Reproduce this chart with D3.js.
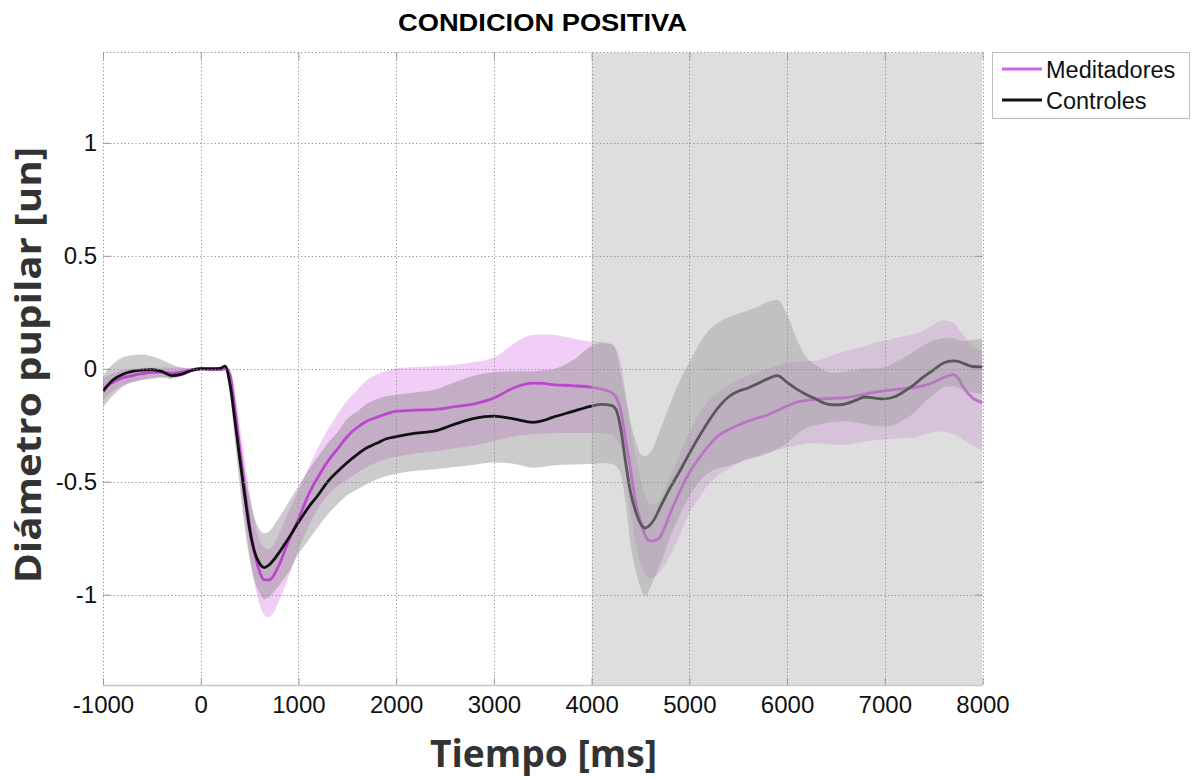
<!DOCTYPE html>
<html><head><meta charset="utf-8">
<script src="https://cdn.jsdelivr.net/npm/d3@7"></script>
<style>body{margin:0;background:#fff}svg{display:block}</style>
</head><body>
<svg id="chart" width="1196" height="780"></svg>
<script>
// ---- data ----
const times = [
  -1000,-900,-800,-700,-600,-500,-400,-300,-200,-100,0,
  100,200,250,300,350,400,450,500,550,600,650,700,
  800,900,1000,1100,1200,1300,1400,1500,1600,1700,1800,1900,2000,
  2200,2400,2600,2800,3000,3200,3400,3500,3600,3800,4000,
  4100,4200,4250,4300,4350,4400,4450,4500,4550,4600,4650,4700,4800,
  4900,5000,5100,5200,5300,5400,5500,5600,5700,5800,5900,6000,
  6100,6200,6300,6400,6500,6600,6700,6800,6900,7000,7100,7200,
  7300,7400,7500,7600,7700,7750,7800,7900,8000
];
const meditadores = [
  -0.09,-0.06,-0.04,-0.03,-0.022,-0.016,-0.015,-0.02,-0.015,-0.005,0,
  -0.003,-0.004,0,-0.03,-0.18,-0.36,-0.53,-0.69,-0.81,-0.895,-0.935,-0.935,
  -0.87,-0.76,-0.665,-0.56,-0.48,-0.41,-0.355,-0.30,-0.26,-0.232,-0.215,-0.20,-0.188,
  -0.183,-0.18,-0.168,-0.155,-0.13,-0.085,-0.064,-0.065,-0.07,-0.075,-0.082,
  -0.09,-0.105,-0.125,-0.19,-0.32,-0.45,-0.59,-0.675,-0.74,-0.763,-0.76,-0.745,-0.645,
  -0.545,-0.46,-0.395,-0.34,-0.295,-0.27,-0.25,-0.232,-0.218,-0.205,-0.185,-0.165,
  -0.148,-0.14,-0.135,-0.132,-0.13,-0.128,-0.12,-0.112,-0.103,-0.098,-0.092,-0.088,
  -0.083,-0.075,-0.06,-0.04,-0.026,-0.04,-0.08,-0.13,-0.15
];
const meditadoresUpper = [
  -0.04,-0.02,-0.005,0.0,0.003,0.005,0.005,0.005,0.005,0.003,0,
  0,0,0.005,0,-0.10,-0.25,-0.40,-0.55,-0.67,-0.76,-0.79,-0.80,
  -0.73,-0.63,-0.54,-0.44,-0.35,-0.27,-0.20,-0.14,-0.095,-0.05,-0.025,-0.01,0.002,
  0.008,0.011,0.018,0.03,0.05,0.11,0.15,0.152,0.15,0.135,0.12,
  0.12,0.11,0.09,0.03,-0.12,-0.26,-0.38,-0.49,-0.56,-0.60,-0.60,-0.58,-0.48,
  -0.38,-0.28,-0.20,-0.14,-0.10,-0.07,-0.05,-0.03,-0.015,0.0,0.015,0.027,
  0.03,0.033,0.035,0.05,0.065,0.078,0.09,0.10,0.115,0.125,0.135,0.145,
  0.152,0.17,0.195,0.215,0.205,0.18,0.15,0.10,0.08
];
const meditadoresLower = [
  -0.14,-0.10,-0.075,-0.06,-0.05,-0.04,-0.035,-0.04,-0.035,-0.015,0,
  -0.005,-0.008,-0.005,-0.07,-0.27,-0.47,-0.66,-0.82,-0.95,-1.04,-1.09,-1.10,
  -1.03,-0.92,-0.80,-0.70,-0.62,-0.56,-0.52,-0.49,-0.46,-0.435,-0.415,-0.40,-0.39,
  -0.375,-0.365,-0.352,-0.34,-0.32,-0.30,-0.29,-0.287,-0.285,-0.284,-0.284,
  -0.285,-0.29,-0.31,-0.35,-0.48,-0.64,-0.77,-0.86,-0.91,-0.93,-0.92,-0.90,-0.83,
  -0.74,-0.64,-0.57,-0.51,-0.47,-0.44,-0.42,-0.40,-0.385,-0.37,-0.36,-0.35,
  -0.34,-0.332,-0.33,-0.333,-0.336,-0.336,-0.33,-0.322,-0.316,-0.314,-0.31,-0.306,
  -0.305,-0.29,-0.28,-0.277,-0.29,-0.30,-0.314,-0.34,-0.365
];
const controles = [
  -0.10,-0.05,-0.025,-0.012,-0.006,-0.004,-0.012,-0.03,-0.025,-0.008,0,
  0,0.002,0.012,-0.07,-0.23,-0.40,-0.56,-0.71,-0.81,-0.86,-0.88,-0.868,
  -0.815,-0.75,-0.68,-0.615,-0.56,-0.50,-0.455,-0.415,-0.38,-0.35,-0.33,-0.31,-0.30,
  -0.285,-0.275,-0.245,-0.22,-0.21,-0.222,-0.237,-0.23,-0.215,-0.19,-0.165,
  -0.158,-0.162,-0.18,-0.27,-0.42,-0.55,-0.63,-0.685,-0.705,-0.69,-0.66,-0.615,-0.53,
  -0.455,-0.375,-0.30,-0.23,-0.17,-0.125,-0.10,-0.085,-0.065,-0.045,-0.03,-0.06,
  -0.09,-0.115,-0.135,-0.155,-0.16,-0.155,-0.14,-0.125,-0.13,-0.133,-0.124,-0.10,
  -0.07,-0.035,-0.005,0.025,0.035,0.033,0.025,0.01,0.008
];
const controlesUpper = [
  -0.03,0.02,0.05,0.06,0.063,0.055,0.04,0.02,0.005,0.0,0,
  0,0.005,0.015,-0.02,-0.14,-0.30,-0.45,-0.57,-0.66,-0.71,-0.728,-0.72,
  -0.66,-0.59,-0.52,-0.45,-0.39,-0.33,-0.28,-0.22,-0.19,-0.155,-0.135,-0.122,-0.115,
  -0.105,-0.092,-0.06,-0.03,-0.015,-0.011,-0.011,-0.008,-0.003,0.035,0.10,
  0.113,0.11,0.08,-0.02,-0.13,-0.24,-0.32,-0.375,-0.387,-0.37,-0.33,-0.27,-0.16,
  -0.055,0.03,0.11,0.17,0.205,0.228,0.245,0.258,0.275,0.295,0.305,0.24,
  0.13,0.05,0.015,-0.012,-0.018,-0.012,-0.005,0.0,0.002,0.008,0.028,0.05,
  0.078,0.105,0.125,0.135,0.135,0.128,0.122,0.13,0.132
];
const controlesLower = [
  -0.17,-0.12,-0.08,-0.06,-0.05,-0.045,-0.04,-0.045,-0.03,-0.01,0,
  0,0,0.005,-0.12,-0.32,-0.52,-0.70,-0.84,-0.94,-0.99,-1.02,-1.01,
  -0.96,-0.90,-0.82,-0.76,-0.70,-0.645,-0.60,-0.56,-0.535,-0.51,-0.49,-0.475,-0.465,
  -0.452,-0.445,-0.435,-0.425,-0.415,-0.42,-0.438,-0.435,-0.428,-0.424,-0.422,
  -0.418,-0.42,-0.43,-0.47,-0.60,-0.78,-0.89,-0.97,-1.005,-0.97,-0.92,-0.87,-0.75,
  -0.65,-0.565,-0.50,-0.46,-0.44,-0.43,-0.415,-0.40,-0.39,-0.375,-0.355,-0.33,
  -0.29,-0.262,-0.25,-0.24,-0.235,-0.232,-0.238,-0.245,-0.255,-0.255,-0.248,-0.225,
  -0.195,-0.15,-0.115,-0.082,-0.078,-0.085,-0.092,-0.105,-0.114
];
const xTicks = [-1000,0,1000,2000,3000,4000,5000,6000,7000,8000];
const yTicks = [-1,-0.5,0,0.5,1];
const xDomain = [-1000, 8000];
const yDomain = [-1.4, 1.4];
const shadedSpan = [4000, 8000];
const seriesNames = ["Meditadores", "Controles"];
const titleText = "CONDICION POSITIVA";
const xLabelText = "Tiempo [ms]";
const yLabelText = "Diámetro pupilar [un]";

// ---- drawing ----
const svg = d3.select("#chart");
const L = 103, R = 982.5, T = 52.5, B = 685;
const x = d3.scaleLinear().domain(xDomain).range([L, R]);
const y = d3.scaleLinear().domain(yDomain).range([B, T]);

const rows = times.map((t, i) => ({
  t, m: meditadores[i], mu: meditadoresUpper[i], ml: meditadoresLower[i],
  c: controles[i], cu: controlesUpper[i], cl: controlesLower[i]
}));

svg.append("clipPath").attr("id", "clip")
  .append("rect").attr("x", L).attr("y", T).attr("width", R - L).attr("height", B - T);
const plot = svg.append("g").attr("clip-path", "url(#clip)");

const curve = d3.curveMonotoneX;
const areaM = d3.area().x(d => x(d.t)).y0(d => y(d.ml)).y1(d => y(d.mu)).curve(curve);
const areaC = d3.area().x(d => x(d.t)).y0(d => y(d.cl)).y1(d => y(d.cu)).curve(curve);
const lineM = d3.line().x(d => x(d.t)).y(d => y(d.m)).curve(curve);
const lineC = d3.line().x(d => x(d.t)).y(d => y(d.c)).curve(curve);

plot.append("path").datum(rows).attr("d", areaM).attr("fill", "#d05ee0").attr("fill-opacity", 0.3);
plot.append("path").datum(rows).attr("d", areaC).attr("fill", "#808080").attr("fill-opacity", 0.4);
plot.append("path").datum(rows).attr("d", lineM).attr("fill", "none")
  .attr("stroke", "#bd45d0").attr("stroke-width", 2.8).attr("stroke-linejoin", "round");
plot.append("path").datum(rows).attr("d", lineC).attr("fill", "none")
  .attr("stroke", "#111").attr("stroke-width", 2.8).attr("stroke-linejoin", "round");

// shaded period drawn over the data
plot.append("rect")
  .attr("x", x(shadedSpan[0])).attr("y", T)
  .attr("width", x(shadedSpan[1]) - x(shadedSpan[0])).attr("height", B - T)
  .attr("fill", "#b4b4b4").attr("fill-opacity", 0.44);

// grid
const grid = svg.append("g").attr("stroke", "#8f8f8f").attr("stroke-width", 1)
  .attr("stroke-dasharray", "1.2,2.4").attr("fill", "none");
grid.selectAll(".gx").data(xTicks).join("line")
  .attr("x1", d => Math.round(x(d)) + 0.5).attr("x2", d => Math.round(x(d)) + 0.5)
  .attr("y1", T).attr("y2", B);
grid.selectAll(".gy").data(yTicks).join("line")
  .attr("y1", d => Math.round(y(d)) + 0.5).attr("y2", d => Math.round(y(d)) + 0.5)
  .attr("x1", L).attr("x2", R);
grid.append("line").attr("x1", L).attr("x2", R).attr("y1", T).attr("y2", T);

// axes
const xAxis = d3.axisBottom(x).tickValues(xTicks).tickFormat(d => String(d))
  .tickSizeInner(-7).tickSizeOuter(0).tickPadding(11);
const yAxis = d3.axisLeft(y).tickValues(yTicks).tickFormat(d => String(d))
  .tickSizeInner(-8).tickSizeOuter(0).tickPadding(6);
const gx = svg.append("g").attr("transform", `translate(0,${B})`).call(xAxis);
const gy = svg.append("g").attr("transform", `translate(${L},0)`).call(yAxis);
const gyR = svg.append("g").attr("transform", `translate(${R},0)`)
  .call(d3.axisRight(y).tickValues(yTicks).tickFormat("").tickSizeInner(-7).tickSizeOuter(0));
const gxT = svg.append("g").attr("transform", `translate(0,${T})`)
  .call(d3.axisTop(x).tickValues(xTicks).tickFormat("").tickSizeInner(-7).tickSizeOuter(0));
[gx, gy, gyR, gxT].forEach(g => {
  g.select(".domain").remove();
  g.selectAll(".tick line").attr("stroke", "#9a9a9a");
  g.selectAll("text").attr("font-family", "'Liberation Sans', Arial, Helvetica, sans-serif")
    .attr("font-size", 24).attr("fill", "#111");
});
svg.append("line").attr("x1", L).attr("x2", R).attr("y1", B + 0.5).attr("y2", B + 0.5)
  .attr("stroke", "#c8c8c8").attr("stroke-width", 1.5);

// title and axis labels
svg.append("text").attr("x", 542.5).attr("y", 31).attr("text-anchor", "middle")
  .attr("font-family", "'Liberation Sans', Arial, sans-serif").attr("font-weight", "bold")
  .attr("font-size", 24).attr("fill", "#000")
  .attr("textLength", 289).attr("lengthAdjust", "spacingAndGlyphs").text(titleText);
svg.append("text").attr("x", 543.5).attr("y", 767).attr("text-anchor", "middle")
  .attr("font-family", "'Open Sans', sans-serif").attr("font-weight", "bold")
  .attr("font-size", 38).attr("fill", "#333")
  .attr("textLength", 227).attr("lengthAdjust", "spacingAndGlyphs").text(xLabelText);
svg.append("text").attr("transform", "translate(41,365) rotate(-90)").attr("text-anchor", "middle")
  .attr("font-family", "'Open Sans', sans-serif").attr("font-weight", "bold")
  .attr("font-size", 36).attr("fill", "#333")
  .attr("textLength", 436).attr("lengthAdjust", "spacingAndGlyphs").text(yLabelText);

// legend
const lg = svg.append("g");
lg.append("rect").attr("x", 992.5).attr("y", 52.5).attr("width", 197).attr("height", 66)
  .attr("fill", "#fff").attr("stroke", "#bdbdbd").attr("stroke-width", 1);
const legendColors = ["#d462e6", "#111"];
seriesNames.forEach((name, i) => {
  const cy = 69 + i * 31;
  lg.append("line").attr("x1", 1002).attr("x2", 1042).attr("y1", cy).attr("y2", cy)
    .attr("stroke", legendColors[i]).attr("stroke-width", 3);
  lg.append("text").attr("x", 1046).attr("y", cy + 9)
    .attr("font-family", "'Liberation Sans', Arial, sans-serif").attr("font-size", 23.5)
    .attr("fill", "#111").text(name);
});
</script>
</body></html>
